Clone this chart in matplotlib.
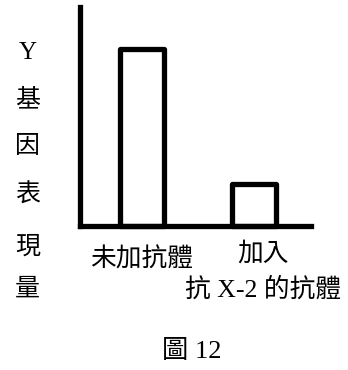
import matplotlib
matplotlib.use("Agg")
import matplotlib.pyplot as plt

plt.rcParams['font.family'] = ['Liberation Serif', 'Noto Sans CJK TC']

# 資料
類別 = ['未加抗體', '加入\n抗 X-2 的抗體']
表現量 = [8.08, 1.90]
y字 = ['Y', '基', '因', '表', '現', '量']
圖名 = '圖 12'

W, H = 348, 370
fig = plt.figure(figsize=(W / 100, H / 100), dpi=100)
ax = fig.add_axes([79.5 / W, 1 - 225.5 / H, (311 - 79.5) / W, (225.5 - 7) / H])

x = [0, 1]
ax.bar(x, 表現量, width=0.393, fill=False, edgecolor='black',
       linewidth=3.8, joinstyle='round', clip_on=False)
ax.set_xlim(-0.558, 1.509)
ax.set_ylim(0, 10)

for s in ['top', 'right']:
    ax.spines[s].set_visible(False)
for s in ['left', 'bottom']:
    ax.spines[s].set_linewidth(3.8)
    ax.spines[s].set_capstyle('projecting')
ax.set_xticks([])
ax.set_yticks([])

# 縱軸文字 (每字一行)
ys = [53, 100, 147, 195, 247, 290]
for ch, yy in zip(y字, ys):
    fig.text(27.5 / W, 1 - yy / H, ch, ha='center', va='center', fontsize=18)

# 橫軸標籤
fig.text(142 / W, 1 - 259 / H, 類別[0], ha='center', va='center', fontsize=18.5)
l1, l2 = 類別[1].split('\n')
fig.text(262.5 / W, 1 - 254 / H, l1, ha='center', va='center', fontsize=18.5)
fig.text(263.5 / W, 1 - 289 / H, l2, ha='center', va='center', fontsize=18.5)

fig.text(192 / W, 1 - 352 / H, 圖名, ha='center', va='center', fontsize=19)

fig.savefig('out.png', dpi=100)
